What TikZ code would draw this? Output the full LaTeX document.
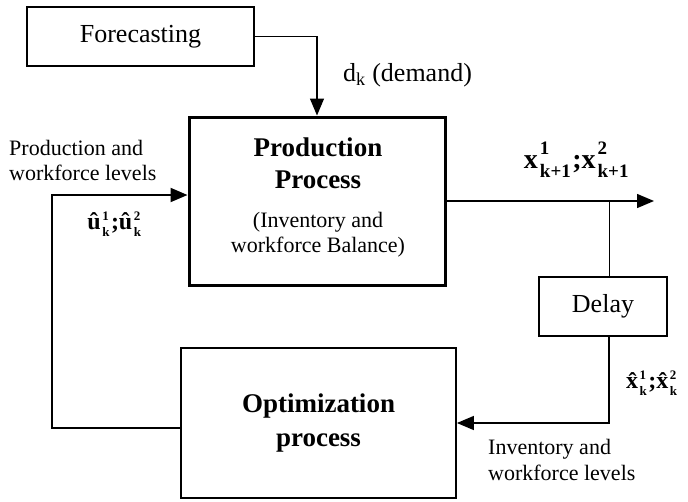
\documentclass[tikz,border=0pt]{standalone}
\usepackage{fontspec}
\setmainfont{Liberation Serif}
\usetikzlibrary{arrows.meta}
\newcommand{\hatidx}[2]{\kern1.5pt\makebox[0pt][l]{\raisebox{0.85ex}{\fontsize{13}{13}\selectfont #1}}\raisebox{-0.65ex}{\fontsize{13}{13}\selectfont #2}\kern1.5pt}
\newcommand{\bigidx}[2]{\kern2pt\makebox[0pt][l]{\raisebox{1.05ex}{\fontsize{19}{19}\selectfont #1}}\raisebox{-0.75ex}{\fontsize{19}{19}\selectfont #2}\kern1.5pt}

\begin{document}
\begin{tikzpicture}[x=1pt,y=-1pt,
   box/.style={draw,line width=1.4pt,inner sep=0pt},
   flow/.style={line width=1.4pt,-{Triangle[length=17pt,width=14pt]}},
   lbl/.style={inner sep=0pt,align=left}]
   \useasboundingbox (0,0) rectangle (688,501);
   \node[box,minimum width=227pt,minimum height=59pt,font=\fontsize{26}{30}\selectfont] (fore) at (140.5,36.5) {Forecasting};
   \node[box,line width=3pt,minimum width=256pt,minimum height=168pt] (prod) at (317,201) {};
   \node[inner sep=0pt,align=center,font=\fontsize{27}{32}\selectfont\bfseries] (prodname) at (318,163) {Production\\Process};
   \node[inner sep=0pt,align=center,font=\fontsize{22}{25}\selectfont] (prodnote) at (318,235) {(Inventory and\\workforce Balance)};
   \node[box,minimum width=128pt,minimum height=59pt,font=\fontsize{26}{30}\selectfont] (delay) at (603,306.5) {Delay};
   \node[box,line width=1.8pt,minimum width=275pt,minimum height=150pt,align=center,font=\fontsize{27}{34}\selectfont\bfseries] (opt) at (318.5,423) {Optimization\\process};
   \coordinate (out) at (654,201);
   \coordinate (tap) at (609,201);
   \coordinate (loopL) at (52,0);
   \draw[flow] (fore.east) -| (prod.north);
   \draw[flow] (prod.east) -- (out);
   \draw[line width=1pt] (tap) -- (tap |- delay.north);
   \draw[flow] (tap |- delay.south) |- (opt.east);
   \draw[flow,line width=2pt] ([yshift=-5pt]opt.west) -- ([yshift=-5pt]opt.west -| loopL) |- ([yshift=6pt]prod.west);
   \node[lbl,anchor=west,font=\fontsize{26}{30}\selectfont] (demand) at (343,75) {d\textsubscript{k} (demand)};
   \node[lbl,anchor=west,font=\fontsize{22}{25}\selectfont] (ulevels) at (9,160) {Production and\\workforce levels};
   \node[lbl,anchor=west,font=\fontsize{22}{26}\selectfont] (xlevels) at (488,460) {Inventory and\\workforce levels};
   \node[lbl,font=\fontsize{24}{24}\selectfont\bfseries] (uhat) at (115,224) {\^u\hatidx{1}{k};\^u\hatidx{2}{k}};
   \node[lbl,font=\fontsize{28}{28}\selectfont\bfseries] (xnext) at (577,160) {x\bigidx{1}{k+1};x\bigidx{2}{k+1}};
   \node[lbl,anchor=west,font=\fontsize{24}{24}\selectfont\bfseries] (xhat) at (626,383) {\^x\hatidx{1}{k};\^x\hatidx{2}{k}};
\end{tikzpicture}
\end{document}
